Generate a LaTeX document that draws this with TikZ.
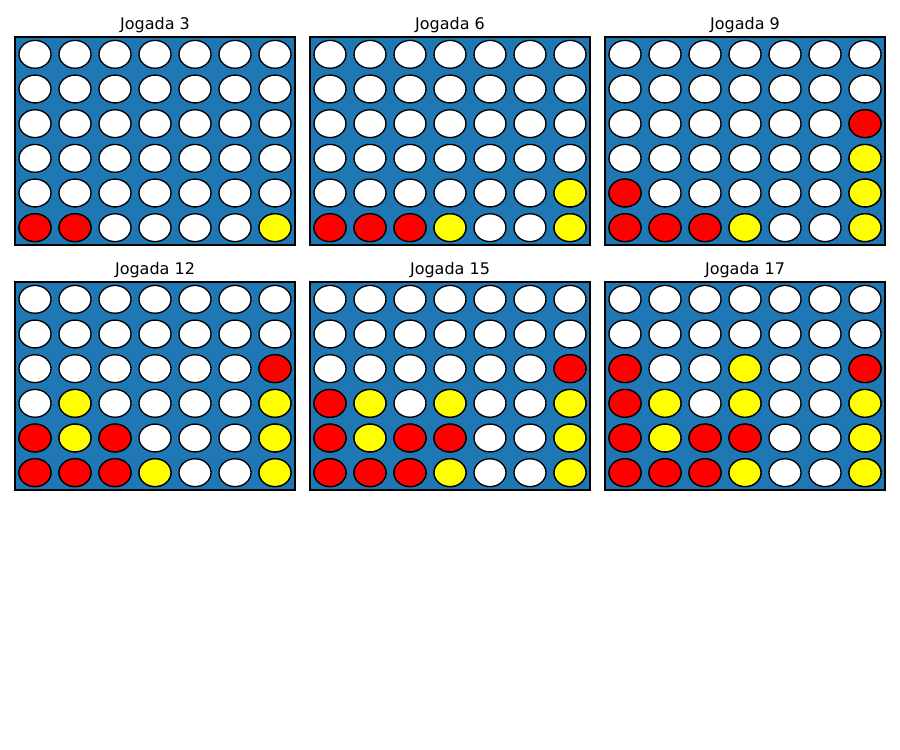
\documentclass[tikz,border=0pt]{standalone}
\usepackage{fontspec}
\setmainfont{DejaVu Sans}
\usetikzlibrary{positioning}
\definecolor{boardblue}{HTML}{1F77B4}
\definecolor{discred}{HTML}{FF0000}
\definecolor{discyellow}{HTML}{FFFF00}

% #1 left, #2 top, #3 name, #4 move, #5 pieces (col/row/colour)
\newcommand{\drawboard}[5]{%
    \draw[board] (#1, #2) rectangle ++(280, 208);
    \node[title] (#3) at ({#1+140}, {#2-8}) {Jogada #4};
    \foreach \c in {1,...,7} {
        \foreach \r in {1,...,6} {
            \draw[disc] ({#1+20+40*(\c-1)}, {#2+17.33+34.67*(\r-1)}) ellipse [x radius=16, y radius=13.9];
        }
    }
    \foreach \c/\r/\s in {#5} {
        \draw[disc, fill=\s] ({#1+20+40*(\c-1)}, {#2+17.33+34.67*(\r-1)}) ellipse [x radius=16, y radius=13.9];
    }
}

\begin{document}
\begin{tikzpicture}[
        x=0.75pt, y=-0.75pt,
        board/.style={fill=boardblue, draw=black, line width=0.8pt},
        disc/.style={draw=black, line width=1pt, fill=white},
        title/.style={font=\fontsize{12}{14}\selectfont, anchor=base}
        ]
    \useasboundingbox (0, 0) rectangle (900, 750);

    % Top row of boards
    \drawboard{15}{37}{t3}{3}{1/6/discred, 2/6/discred, 7/6/discyellow}
    \drawboard{310}{37}{t6}{6}{1/6/discred, 2/6/discred, 3/6/discred, 4/6/discyellow, 7/6/discyellow, 7/5/discyellow}
    \drawboard{605}{37}{t9}{9}{1/6/discred, 2/6/discred, 3/6/discred, 4/6/discyellow, 7/6/discyellow, 7/5/discyellow,
        7/4/discyellow, 7/3/discred, 1/5/discred}

    % Bottom row of boards
    \drawboard{15}{282}{t12}{12}{1/6/discred, 2/6/discred, 3/6/discred, 4/6/discyellow, 7/6/discyellow, 7/5/discyellow,
        7/4/discyellow, 7/3/discred, 1/5/discred, 2/4/discyellow, 2/5/discyellow, 3/5/discred}
    \drawboard{310}{282}{t15}{15}{1/6/discred, 2/6/discred, 3/6/discred, 4/6/discyellow, 7/6/discyellow, 7/5/discyellow,
        7/4/discyellow, 7/3/discred, 1/5/discred, 2/4/discyellow, 2/5/discyellow, 3/5/discred,
        1/4/discred, 4/4/discyellow, 4/5/discred}
    \drawboard{605}{282}{t17}{17}{1/6/discred, 2/6/discred, 3/6/discred, 4/6/discyellow, 7/6/discyellow, 7/5/discyellow,
        7/4/discyellow, 7/3/discred, 1/5/discred, 2/4/discyellow, 2/5/discyellow, 3/5/discred,
        1/4/discred, 4/4/discyellow, 4/5/discred, 1/3/discred, 4/3/discyellow}

\end{tikzpicture}
\end{document}
